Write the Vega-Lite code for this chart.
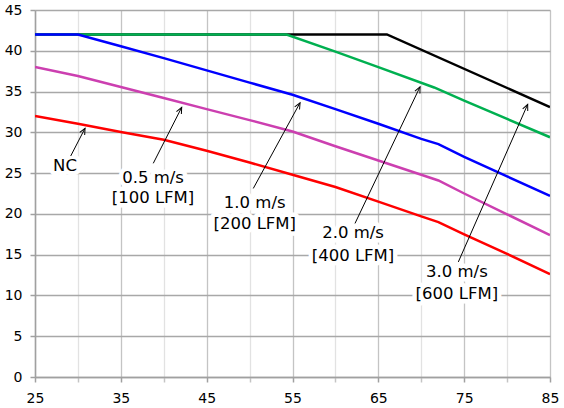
{
  "$schema": "https://vega.github.io/schema/vega-lite/v6.json",
  "width": 515,
  "height": 367,
  "autosize": {"type": "none"},
  "padding": {"left": 35, "top": 10, "right": 14, "bottom": 31},
  "background": "white",
  "config": {
    "font": "DejaVu Sans",
    "view": {"stroke": null},
    "axis": {"labelFont": "DejaVu Sans", "labelFontSize": 14, "labelColor": "black", "title": null}
  },
  "datasets": {
    "curves": [
      {"airflow": "3.0 m/s", "t": 25, "i": 42},
      {"airflow": "3.0 m/s", "t": 66, "i": 42},
      {"airflow": "3.0 m/s", "t": 85, "i": 33.1},
      {"airflow": "2.0 m/s", "t": 25, "i": 42},
      {"airflow": "2.0 m/s", "t": 54.3, "i": 42},
      {"airflow": "2.0 m/s", "t": 60, "i": 39.9},
      {"airflow": "2.0 m/s", "t": 65, "i": 38.0},
      {"airflow": "2.0 m/s", "t": 71.5, "i": 35.5},
      {"airflow": "2.0 m/s", "t": 75, "i": 33.9},
      {"airflow": "2.0 m/s", "t": 80, "i": 31.65},
      {"airflow": "2.0 m/s", "t": 85, "i": 29.4},
      {"airflow": "1.0 m/s", "t": 25, "i": 42},
      {"airflow": "1.0 m/s", "t": 30, "i": 42},
      {"airflow": "1.0 m/s", "t": 35, "i": 40.55},
      {"airflow": "1.0 m/s", "t": 40, "i": 39.1},
      {"airflow": "1.0 m/s", "t": 45, "i": 37.6},
      {"airflow": "1.0 m/s", "t": 50, "i": 36.1},
      {"airflow": "1.0 m/s", "t": 55, "i": 34.6},
      {"airflow": "1.0 m/s", "t": 60, "i": 32.85},
      {"airflow": "1.0 m/s", "t": 65, "i": 31.05},
      {"airflow": "1.0 m/s", "t": 70, "i": 29.2},
      {"airflow": "1.0 m/s", "t": 72, "i": 28.55},
      {"airflow": "1.0 m/s", "t": 75, "i": 27.0},
      {"airflow": "1.0 m/s", "t": 80, "i": 24.6},
      {"airflow": "1.0 m/s", "t": 85, "i": 22.2},
      {"airflow": "0.5 m/s", "t": 25, "i": 38.0},
      {"airflow": "0.5 m/s", "t": 30, "i": 36.9},
      {"airflow": "0.5 m/s", "t": 35, "i": 35.55},
      {"airflow": "0.5 m/s", "t": 40, "i": 34.2},
      {"airflow": "0.5 m/s", "t": 45, "i": 32.85},
      {"airflow": "0.5 m/s", "t": 50, "i": 31.5},
      {"airflow": "0.5 m/s", "t": 55, "i": 30.1},
      {"airflow": "0.5 m/s", "t": 60, "i": 28.3},
      {"airflow": "0.5 m/s", "t": 65, "i": 26.55},
      {"airflow": "0.5 m/s", "t": 70, "i": 24.8},
      {"airflow": "0.5 m/s", "t": 72, "i": 24.1},
      {"airflow": "0.5 m/s", "t": 75, "i": 22.5},
      {"airflow": "0.5 m/s", "t": 80, "i": 19.95},
      {"airflow": "0.5 m/s", "t": 85, "i": 17.4},
      {"airflow": "NC", "t": 25, "i": 32.0},
      {"airflow": "NC", "t": 30, "i": 31.05},
      {"airflow": "NC", "t": 35, "i": 30.05},
      {"airflow": "NC", "t": 40, "i": 29.1},
      {"airflow": "NC", "t": 45, "i": 27.75},
      {"airflow": "NC", "t": 50, "i": 26.3},
      {"airflow": "NC", "t": 55, "i": 24.8},
      {"airflow": "NC", "t": 60, "i": 23.3},
      {"airflow": "NC", "t": 65, "i": 21.5},
      {"airflow": "NC", "t": 70, "i": 19.7},
      {"airflow": "NC", "t": 72, "i": 19.0},
      {"airflow": "NC", "t": 75, "i": 17.5},
      {"airflow": "NC", "t": 80, "i": 15.1},
      {"airflow": "NC", "t": 85, "i": 12.6}
    ],
    "labels": [
      {"text": "NC", "t": 28.5, "i": 25.85},
      {"text": "0.5 m/s", "t": 38.75, "i": 24.4},
      {"text": "[100 LFM]", "t": 38.75, "i": 21.95},
      {"text": "1.0 m/s", "t": 50.6, "i": 21.3},
      {"text": "[200 LFM]", "t": 50.6, "i": 18.75},
      {"text": "2.0 m/s", "t": 62.05, "i": 17.6},
      {"text": "[400 LFM]", "t": 62.05, "i": 14.8},
      {"text": "3.0 m/s", "t": 74.15, "i": 12.9},
      {"text": "[600 LFM]", "t": 74.15, "i": 10.15}
    ],
    "arrows": [
      {"airflow": "NC", "t": 29.16, "i": 27.1, "t2": 30.83, "i2": 30.5},
      {"airflow": "0.5 m/s", "t": 38.78, "i": 26.2, "t2": 42.09, "i2": 33.06},
      {"airflow": "1.0 m/s", "t": 50.43, "i": 23.12, "t2": 55.88, "i2": 33.63},
      {"airflow": "2.0 m/s", "t": 62.28, "i": 18.83, "t2": 69.86, "i2": 35.59},
      {"airflow": "3.0 m/s", "t": 74.32, "i": 14.11, "t2": 82.4, "i2": 33.43}
    ]
  },
  "encoding": {
    "x": {
      "field": "t",
      "type": "quantitative",
      "scale": {"domain": [25, 85], "nice": false, "zero": false},
      "axis": {
        "values": [25, 30, 35, 40, 45, 50, 55, 60, 65, 70, 75, 80, 85],
        "labelExpr": "(datum.value - 25) % 10 == 0 ? datum.label : ''",
        "gridColor": {"condition": {"test": "(datum.value - 25) % 10 == 0", "value": "#c4c4c4"}, "value": "#e2e2e2"},
        "gridWidth": 1.3,
        "domainColor": "#a0a0a0",
        "domainWidth": 1.5,
        "tickColor": {"condition": {"test": "(datum.value - 25) % 10 == 0", "value": "#a0a0a0"}, "value": "#c4c4c4"},
        "tickWidth": 1.5,
        "tickSize": 5,
        "labelPadding": 9,
        "labelFlush": false
      }
    },
    "y": {
      "field": "i",
      "type": "quantitative",
      "scale": {"domain": [0, 45], "nice": false},
      "axis": {
        "values": [0, 5, 10, 15, 20, 25, 30, 35, 40, 45],
        "gridColor": "#a8a8a8",
        "gridWidth": 1.3,
        "domainColor": "#a0a0a0",
        "domainWidth": 1.5,
        "tickColor": "#a0a0a0",
        "tickWidth": 1.5,
        "tickSize": 5,
        "labelPadding": 8
      }
    }
  },
  "layer": [
    {
      "data": {"name": "labels"},
      "mark": {"type": "text", "fontSize": 16.5, "align": "center", "baseline": "middle", "stroke": "white", "strokeWidth": 9, "strokeJoin": "round", "fill": "white"},
      "encoding": {"text": {"field": "text"}}
    },
    {
      "data": {"name": "curves"},
      "mark": {"type": "line", "strokeWidth": 2.5, "clip": true},
      "encoding": {
        "color": {
          "field": "airflow",
          "type": "nominal",
          "scale": {"domain": ["3.0 m/s", "2.0 m/s", "1.0 m/s", "0.5 m/s", "NC"], "range": ["#000000", "#00b050", "#0000ff", "#cc3fb0", "#ff0000"]},
          "legend": null
        }
      }
    },
    {
      "data": {"name": "arrows"},
      "mark": {"type": "rule", "color": "black", "strokeWidth": 1},
      "encoding": {"x2": {"field": "t2"}, "y2": {"field": "i2"}}
    },
    {
      "data": {"name": "arrows"},
      "mark": {
        "type": "point",
        "shape": "M-0.45,1L0,0L0.45,1",
        "filled": false,
        "stroke": "black",
        "strokeWidth": 1,
        "size": 150,
        "opacity": 1,
        "angle": {"expr": "atan2(scale('x', datum.t2) - scale('x', datum.t), scale('y', datum.i) - scale('y', datum.i2)) * 180 / PI"}
      },
      "encoding": {"x": {"field": "t2", "type": "quantitative"}, "y": {"field": "i2", "type": "quantitative"}}
    },
    {
      "data": {"name": "labels"},
      "mark": {"type": "text", "fontSize": 16.5, "align": "center", "baseline": "middle", "color": "black"},
      "encoding": {"text": {"field": "text"}}
    }
  ]
}
